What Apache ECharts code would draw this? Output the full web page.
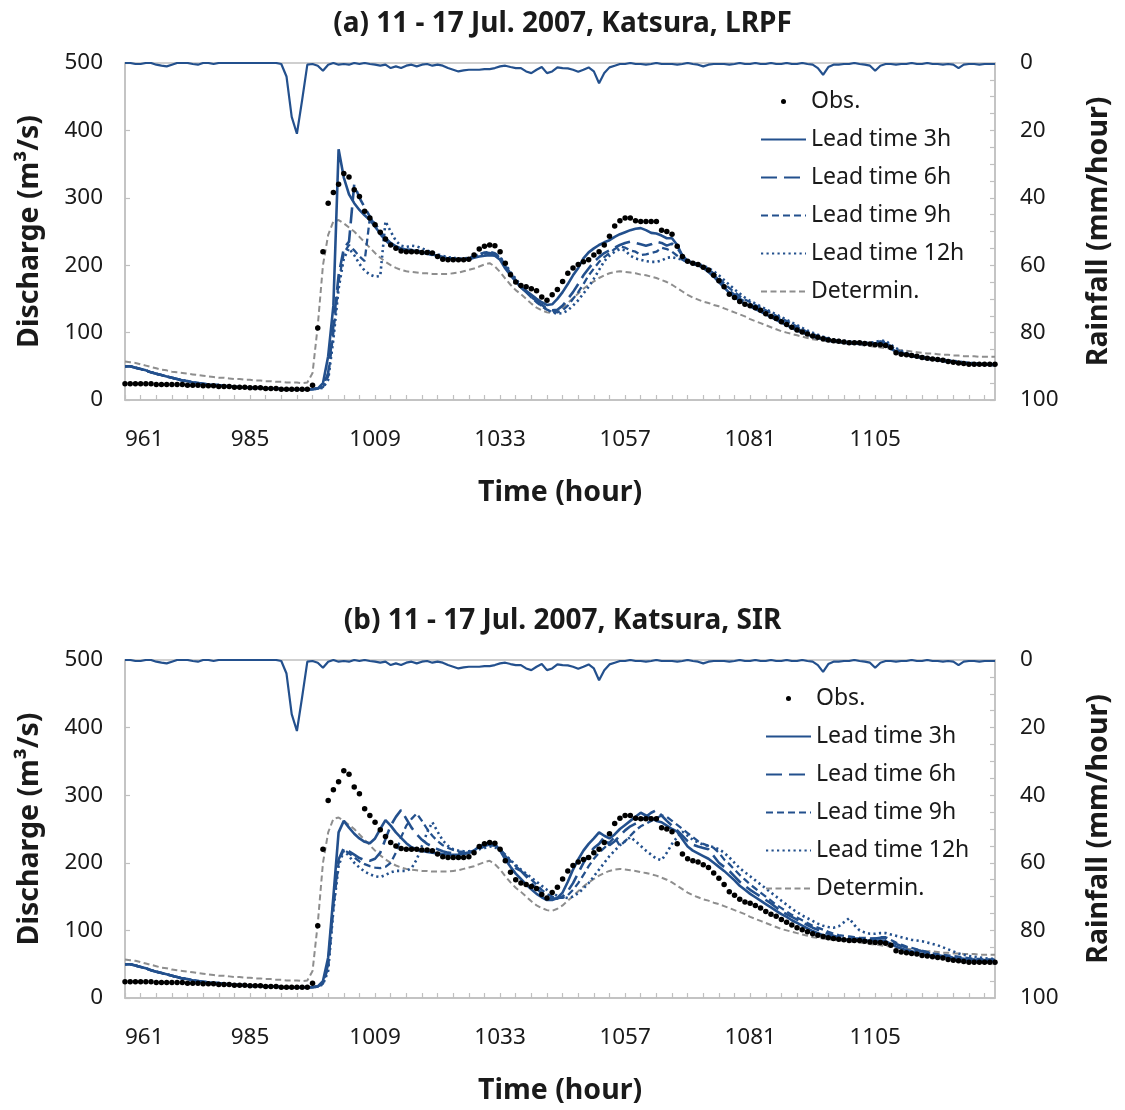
<!DOCTYPE html>
<html><head><meta charset="utf-8">
<script src="https://cdn.jsdelivr.net/npm/echarts@6/dist/echarts.min.js"></script>
<style>html,body{margin:0;padding:0;background:#fff}#c{width:1125px;height:1110px}</style>
</head><body><div id="c"></div>
<script>
// Hours (categories)
const hours = [961,962,963,964,965,966,967,968,969,970,971,972,973,974,975,976,977,978,979,980,
981,982,983,984,985,986,987,988,989,990,991,992,993,994,995,996,997,998,999,1000,
1001,1002,1003,1004,1005,1006,1007,1008,1009,1010,1011,1012,1013,1014,1015,1016,1017,1018,1019,1020,
1021,1022,1023,1024,1025,1026,1027,1028,1029,1030,1031,1032,1033,1034,1035,1036,1037,1038,1039,1040,
1041,1042,1043,1044,1045,1046,1047,1048,1049,1050,1051,1052,1053,1054,1055,1056,1057,1058,1059,1060,
1061,1062,1063,1064,1065,1066,1067,1068,1069,1070,1071,1072,1073,1074,1075,1076,1077,1078,1079,1080,
1081,1082,1083,1084,1085,1086,1087,1088,1089,1090,1091,1092,1093,1094,1095,1096,1097,1098,1099,1100,
1101,1102,1103,1104,1105,1106,1107,1108,1109,1110,1111,1112,1113,1114,1115,1116,1117,1118,1119,1120,
1121,1122,1123,1124,1125,1126,1127,1128];

const obs = [24,24,24,24,24,24,23,23,23,23, 23,23,22,22,22,21,21,21,20,20, 20,19,19,19,18,18,18,17,17,17,
16,16,16,16,16,16,22,107,220,292, 308,320,336,331,312,302,280,270,260,249, 239,230,225,221,220,220,220,219,219,218,
213,209,208,208,208,208,209,215,224,228, 230,229,220,203,186,175,170,168,165,162, 153,148,156,164,176,188,196,201,205,208,
215,220,230,243,258,266,270,270,266,265, 265,265,265,252,250,246,228,213,206,203, 201,197,193,185,177,168,157,152,146,142,
140,137,133,128,124,121,116,112,108,104, 101,98,95,93,91,89,88,87,86,85, 85,85,84,83,82,82,81,78,70,68,
67,66,65,63,62,61,60,59,57,56, 55,54,53,53,53,53,53,53];

const determin = [57,56,55,53,51,49,47,45,44,42, 41,40,39,38,37,36,35,34,33,33, 32,31,31,30,30,29,29,28,28,27,
27,26,26,26,25,26,40,110,200,245, 265,267,262,256,250,242,234,226,218,211, 205,200,196,193,191,190,189,188,188,187,
187,187,187,188,189,191,193,195,198,201, 203,198,190,180,171,163,157,150,143,137, 133,130,129,132,137,144,151,158,165,171,
176,181,185,188,190,191,190,189,188,186, 185,183,181,178,175,171,166,161,156,152, 149,146,144,141,139,136,133,130,127,124,
120,117,114,111,108,105,102,100,98,96, 94,92,90,89,88,87,86,85,85,84, 83,82,81,80,79,78,77,76,75,74,
73,72,71,70,69,69,68,67,67,66, 66,65,65,65,64,64,64,64];

const rain = [0,0,0.3,0.3,0,0,0.5,0.8,1,0.5, 0,0,0,0.3,0.5,0,0,0.3,0,0, 0,0,0,0,0,0,0,0,0,0,
0.3,4,16,21,11,0.5,0.3,0.8,2.3,0.5, 0,0.5,0.3,0.5,0,0.3,0,0.3,0.5,0.8, 0.5,1.5,1,1.5,0.8,0.5,1,0.5,0.3,0.8,
0.5,0.8,1.5,2,2.5,2.2,2,2,2,1.8, 1.8,1.5,1,0.8,1.2,1.5,1.5,2.5,3,2, 1.2,3,2.5,1.3,1.5,1.6,2,2.6,2,1.3,
2.5,6,3,1.3,0.8,0.3,0.3,0,0.3,0.3, 0.5,0.3,0,0.3,0.3,0.3,0.5,0.3,0,0.3, 0.5,1,0.5,0.3,0.3,0.3,0.5,0.3,0,0.3,
0.3,0,0.3,0.3,0,0.3,0.3,0,0.3,0.3, 0,0.3,0.5,1.5,3.5,1.2,0.5,0.5,0.3,0.3, 0,0.3,0.5,0.8,2.3,0.8,0.3,0.3,0.5,0.3,
0.3,0,0.3,0.3,0,0.3,0.3,0.5,0.3,0.5, 1.5,0.5,0.3,0.3,0.5,0.3,0.3,0.3];

// Panel (a) LRPF
const lead3a = [50,50,48,46,44,41,39,37,35,33, 31,29,28,26,25,24,23,22,22,21, 20,20,19,19,18,18,18,17,17,17,
16,16,16,16,16,16,16,17,25,65, 140,372,330,305,292,282,274,267,257,247, 240,233,228,225,223,222,221,219,218,216,
214,212,210,209,208,208,209,211,213,214, 215,214,208,195,185,176,168,162,156,150, 145,141,142,150,160,172,185,196,210,219,
225,230,234,237,242,246,249,252,254,255, 252,248,247,244,240,240,230,214,206,202, 200,196,190,183,175,167,159,153,147,143,
139,135,131,127,123,119,115,111,107,103, 100,97,94,92,90,88,87,86,85,84, 84,83,83,83,84,85,82,76,72,69,
67,65,64,62,61,60,59,58,57,56, 55,54,54,53,53,53,52,52];
const lead6a = [50,50,48,46,44,41,39,37,35,33, 31,29,28,26,25,24,23,22,22,21, 20,20,19,19,18,18,18,17,17,17,
16,16,16,16,16,16,16,17,20,40, 110,185,225,235,320,300,286,272,258,246, 237,230,226,223,222,221,220,219,217,215,
213,211,210,209,208,208,209,212,215,217, 218,216,210,198,186,176,167,160,153,147, 141,136,133,134,140,150,160,172,185,195,
205,212,218,222,226,230,233,235,233,231, 229,231,235,233,229,232,226,214,206,202, 200,197,192,185,178,170,162,156,150,146,
142,138,134,130,126,122,118,114,110,106, 102,99,96,93,91,89,88,87,86,85, 85,84,84,83,84,86,84,78,73,70,
68,66,64,63,62,61,59,58,57,56, 55,55,54,54,53,53,53,53];
const lead9a = [50,50,48,46,44,41,39,37,35,33, 31,29,28,26,25,24,23,22,22,21, 20,20,19,19,18,18,18,17,17,17,
16,16,16,16,16,16,16,17,19,35, 100,175,218,230,222,213,206,270,262,250, 240,232,227,224,223,223,222,220,218,216,
214,212,211,210,209,209,210,213,216,219, 220,218,212,200,188,178,168,160,152,145, 139,134,131,130,133,140,150,160,172,185,
195,205,212,218,224,228,226,222,220,215, 216,218,220,226,224,220,214,208,204,202, 201,198,194,188,181,173,166,160,154,149,
145,141,137,133,129,125,121,117,113,109, 105,101,98,95,93,91,89,88,87,86, 85,85,84,84,85,87,86,80,75,71,
69,67,65,64,62,61,60,59,58,57, 56,55,55,54,54,53,53,53];
const lead12a = [50,50,48,46,44,41,39,37,35,33, 31,29,28,26,25,24,23,22,22,21, 20,20,19,19,18,18,18,17,17,17,
16,16,16,16,16,16,16,17,18,30, 90,165,210,225,215,202,192,186,183,184, 265,250,236,229,227,229,228,225,222,219,
216,214,212,211,210,210,211,213,216,218, 219,217,212,202,190,180,170,161,153,146, 140,134,130,128,129,133,140,148,158,168,
180,193,206,214,220,224,222,214,210,208, 206,205,205,207,211,212,210,208,206,204, 202,199,196,191,185,178,171,164,158,152,
147,143,139,135,131,127,123,119,115,111, 107,103,100,97,94,92,90,89,88,87, 86,86,85,85,86,88,88,82,77,73,
70,68,66,65,63,62,61,60,59,58, 57,56,55,55,54,54,54,54];

// Panel (b) SIR
const lead3b = [50,50,48,46,44,41,39,37,35,33, 31,29,28,26,25,24,23,22,22,21, 20,20,19,19,18,18,18,17,17,17,
16,16,16,16,16,16,16,17,25,60, 150,245,262,252,243,236,231,229,236,250, 263,255,245,237,229,223,220,218,216,215,
214,213,212,212,212,213,215,218,224,228, 229,228,218,205,194,184,176,168,161,154, 149,145,145,148,156,172,190,205,218,228,
236,245,240,236,242,250,256,262,268,274, 270,266,262,260,255,250,246,235,224,218, 214,210,206,200,194,188,181,174,166,160,
154,149,144,139,134,129,124,120,115,111, 107,103,99,96,93,91,89,88,87,86, 86,85,85,85,85,85,84,80,76,73,
71,69,67,65,64,63,62,61,60,59, 58,57,56,56,55,55,55,55];
const lead6b = [50,50,48,46,44,41,39,37,35,33, 31,29,28,26,25,24,23,22,22,21, 20,20,19,19,18,18,18,17,17,17,
16,16,16,16,16,16,16,17,22,50, 140,205,222,217,212,207,204,203,206,215, 235,255,268,278,265,252,242,234,228,224,
220,217,215,214,214,214,215,217,221,225, 227,226,220,210,200,192,188,180,170,162, 155,150,147,147,150,158,170,185,200,212,
222,228,238,226,232,240,248,254,258,262, 268,274,278,270,262,255,248,240,232,227, 224,222,220,210,200,194,188,180,172,166,
160,155,150,145,140,134,128,124,120,116, 112,108,104,101,98,95,92,90,89,88, 88,88,87,87,88,89,88,84,80,77,
75,73,71,69,67,65,63,62,61,60, 59,58,57,57,56,56,56,56];
const lead9b = [50,50,48,46,44,41,39,37,35,33, 31,29,28,26,25,24,23,22,22,21, 20,20,19,19,18,18,18,17,17,17,
16,16,16,16,16,16,16,17,21,45, 135,200,220,214,208,202,198,195,193,192, 194,200,215,238,255,265,273,262,250,240,
232,226,222,219,217,216,216,218,221,224, 226,225,220,212,203,195,188,182,175,168, 160,154,150,148,148,152,160,170,182,195,
206,215,222,230,238,225,232,240,248,254, 258,262,266,270,268,262,256,250,244,238, 232,228,225,222,215,205,198,190,182,175,
168,162,156,150,144,138,133,128,123,119, 115,111,107,104,101,98,95,93,92,91, 90,89,89,88,88,90,90,86,82,79,
76,74,72,70,68,66,65,64,63,62, 61,60,59,58,58,57,57,57];
const lead12b = [50,50,48,46,44,41,39,37,35,33, 31,29,28,26,25,24,23,22,22,21, 20,20,19,19,18,18,18,17,17,17,
16,16,16,16,16,16,16,17,20,40, 130,195,218,210,200,193,187,183,180,179, 182,186,188,188,188,192,205,225,245,260,
246,233,225,220,218,217,217,218,220,222, 224,223,219,212,204,197,190,184,178,172, 166,160,155,151,149,148,150,155,162,170,
180,190,200,210,218,226,232,238,232,225, 218,212,206,204,215,228,238,246,240,234, 230,227,225,223,220,215,208,200,192,186,
180,174,168,162,156,150,144,138,132,127, 122,118,114,110,107,105,104,106,112,118, 108,100,97,95,95,96,96,94,92,90,
88,86,85,84,82,80,78,75,72,69, 66,64,62,61,60,59,58,58];

const yRightLabels = [0,20,40,60,80,100];
const titles = ['(a) 11 - 17 Jul. 2007, Katsura, LRPF', '(b) 11 - 17 Jul. 2007, Katsura, SIR'];
const legendNames = ['Obs.','Lead time 3h','Lead time 6h','Lead time 9h','Lead time 12h','Determin.'];

const BLUE = '#23508d', GRAY = '#8e8e8e', AXIS = '#c0c0c0', TXT = '#1a1a1a';
const FONT = 'Noto Sans';
const NAMESIZE = 28.5;

const grids = [{left:125, top:63, width:870, height:337}, {left:125, top:660, width:870, height:338}];

const legendData = legendNames.map(n => n === 'Obs.' ? {name:n} :
  {name:n, itemStyle:{color:'rgba(0,0,0,0)', borderColor:'rgba(0,0,0,0)', borderWidth:0}});

const option = {
  animation:false,
  backgroundColor:'#fff',
  textStyle:{fontFamily:FONT, color:TXT},
  title: titles.map((t,i)=>({text:t, left:'center', top: i===0?10:607, padding:0,
    textStyle:{fontFamily:FONT, fontWeight:'bold', fontSize:28, color:TXT}})),
  legend: [0,1].map(i=>({
    data: legendData, orient:'vertical', left: i===0?760:765, top: i===0?90:687,
    itemWidth:45, itemHeight:5, itemGap:15, padding:0, selectedMode:false,
    textStyle:{fontFamily:FONT, fontSize:23, color:TXT}
  })),
  grid: grids.map(g=>Object.assign({show:true, borderColor:AXIS, borderWidth:1.5, backgroundColor:'transparent'}, g)),
  xAxis: [0,1].map(i=>({
    type:'category', gridIndex:i, data:hours, boundaryGap:false,
    name:'Time (hour)', nameLocation:'middle', nameGap:78,
    nameTextStyle:{fontFamily:FONT, fontWeight:'bold', fontSize:NAMESIZE, color:TXT},
    axisLine:{lineStyle:{color:AXIS, width:1.5}},
    axisTick:{show:true, inside:true, length:5, interval:2, lineStyle:{color:AXIS, width:1.2}},
    axisLabel:{interval:23, margin:28, fontSize:22.5, color:TXT, fontFamily:FONT, alignMinLabel:'left'},
    splitLine:{show:false}
  })),
  yAxis: [
    ...[0,1].map(i=>({
      type:'value', gridIndex:i, min:0, max:500, interval:100, position:'left',
      name:'Discharge (m³/s)', nameLocation:'middle', nameGap:81, nameRotate:90,
      nameTextStyle:{fontFamily:FONT, fontWeight:'bold', fontSize:NAMESIZE, color:TXT},
      axisLine:{show:true, lineStyle:{color:AXIS, width:1.5}},
      axisTick:{show:true, inside:true, length:5, lineStyle:{color:AXIS, width:1.2}},
      axisLabel:{margin:22, fontSize:22.5, color:TXT, fontFamily:FONT},
      splitLine:{show:false}
    })),
    ...[0,1].map(i=>({
      type:'value', gridIndex:i, min:0, max:100, interval:5, inverse:true, position:'right',
      name:'Rainfall (mm/hour)', nameLocation:'middle', nameGap:89, nameRotate:90,
      nameTextStyle:{fontFamily:FONT, fontWeight:'bold', fontSize:NAMESIZE, color:TXT},
      axisLine:{show:true, lineStyle:{color:AXIS, width:1.5}},
      axisTick:{show:true, inside:true, length:5, lineStyle:{color:AXIS, width:1.2}},
      axisLabel:{margin:25, fontSize:22.5, color:TXT, fontFamily:FONT,
        formatter:v=> yRightLabels.indexOf(v)>=0 ? String(v) : ''},
      splitLine:{show:false}
    }))
  ],
  series: []
};

const leads = [[lead3a,lead6a,lead9a,lead12a],[lead3b,lead6b,lead9b,lead12b]];
const leadStyles = [
  {type:'solid', width:2.6},
  {type:[16,7], width:2.6},
  {type:[7,4], width:2.3},
  {type:[2.2,3.3], width:2.6}
];
[0,1].map(p=>{
  option.series.push({name:'Determin.', type:'line', xAxisIndex:p, yAxisIndex:p, data:determin,
    symbol:'none', z:2, lineStyle:{color:GRAY, width:2, type:[6,3.5]}, itemStyle:{color:GRAY}});
  [3,2,1,0].forEach(k=>{
    option.series.push({name:legendNames[k+1], type:'line', xAxisIndex:p, yAxisIndex:p, data:leads[p][k],
      symbol:'none', z:3+(3-k), lineStyle:Object.assign({color:BLUE}, leadStyles[k]), itemStyle:{color:BLUE}});
  });
  option.series.push({name:'Rainfall', type:'line', xAxisIndex:p, yAxisIndex:2+p, data:rain,
    symbol:'none', z:8, lineStyle:{color:BLUE, width:2.2}, itemStyle:{color:BLUE}});
  option.series.push({name:'Obs.', type:'scatter', xAxisIndex:p, yAxisIndex:p, data:obs,
    symbol:'circle', symbolSize:5.5, z:10, itemStyle:{color:'#000', opacity:1}});
});

const chart = echarts.init(document.getElementById('c'), null, {renderer:'canvas'});
chart.setOption(option);
</script></body></html>
